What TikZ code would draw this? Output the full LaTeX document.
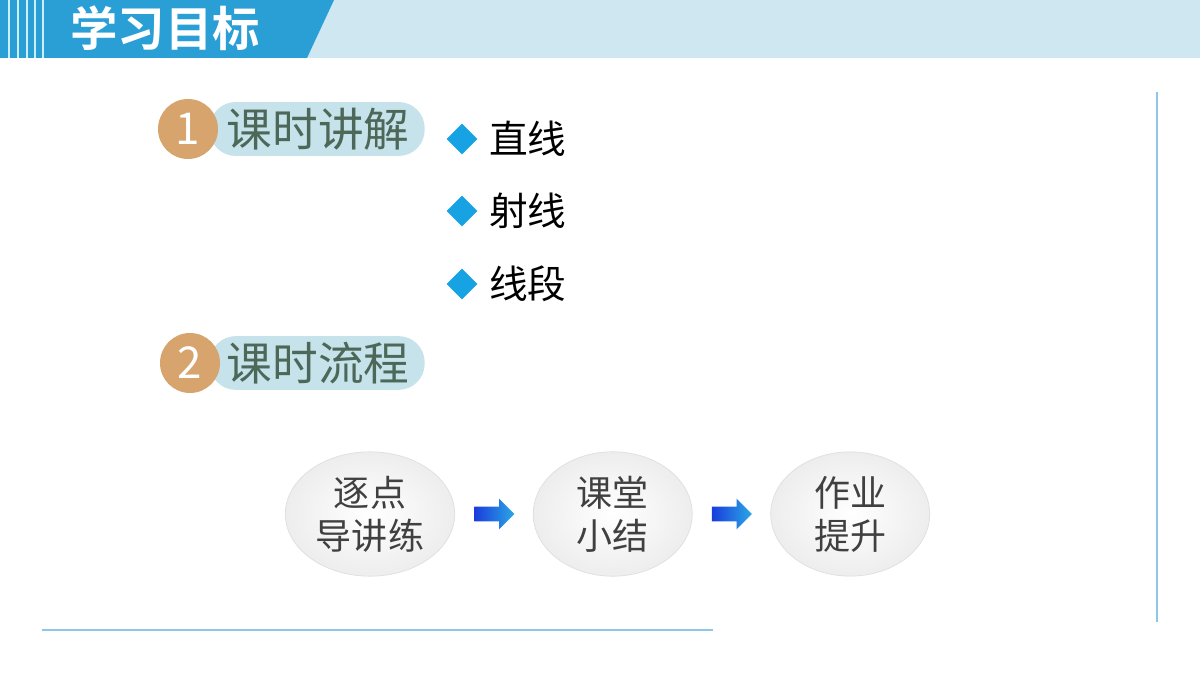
\documentclass[tikz,border=0pt]{standalone}
\usepackage{fontspec}
\newfontfamily\cjk{Noto Sans CJK SC}[BoldFont={Noto Sans CJK SC Bold}]
\usepackage{tikz}
\usetikzlibrary{positioning,shapes.geometric,shapes.arrows}
\definecolor{chead}{HTML}{2A9FD6}
\definecolor{clight}{HTML}{CFE7F1}
\definecolor{cpill}{HTML}{C6E2EA}
\definecolor{cnum}{HTML}{D6A46C}
\definecolor{ctext}{HTML}{4D6858}
\definecolor{cdia}{HTML}{17A2E4}
\definecolor{cline}{HTML}{8CC8E6}
\definecolor{carrl}{HTML}{1A3CDC}
\definecolor{carrr}{HTML}{2AA8E6}
\tikzset{
  pill/.style={fill=cpill, rounded corners=0.52cm, minimum height=1.04cm, text width=3.7cm, align=right,
    inner xsep=0.3cm, font=\cjk\fontsize{26}{28}\selectfont, text=ctext},
  numc/.style={circle, fill=cnum, minimum size=1.2cm, inner sep=0pt, text=white, font=\cjk\fontsize{25}{27}\selectfont},
  dia/.style={diamond, fill=cdia, minimum size=0.62cm, inner sep=0pt},
  item/.style={font=\cjk\fontsize{22}{24}\selectfont, text=black, inner sep=0pt},
  flow/.style={ellipse, draw=gray!25, shading=radial, inner color=white, outer color=gray!14,
    minimum width=3.18cm, minimum height=2.36cm, align=center, text=black!75,
    font=\cjk\fontsize{20.5}{24.5}\selectfont},
  blockarr/.style={single arrow, minimum height=0.8cm, inner xsep=0pt, inner ysep=0.14cm,
    single arrow head extend=0.16cm, left color=carrl, right color=carrr, draw=none},
}
\begin{document}
\begin{tikzpicture}[x=0.02cm, y=-0.02cm]
\useasboundingbox (0,0) rectangle (1200,675);
\fill[white] (0,0) rectangle (1200,675);
% header band
\fill[clight] (330,0) -- (1200,0) -- (1200,58) -- (305,58) -- cycle;
\fill[chead] (0,0) -- (334,0) -- (307,58) -- (0,58) -- cycle;
\foreach \x in {9,18,27,35,43} \fill[white!80!cyan] (\x-0.8,0) rectangle (\x+0.8,58);
\node[font=\cjk\bfseries\fontsize{27}{29}\selectfont, text=white] (title) at (165,28) {学习目标};
% frame lines
\draw[cline, line width=0.9pt] (1157,92) -- (1157,622);
\draw[cline, line width=0.9pt] (42,630) -- (713,630);
% part 1
\node[pill, anchor=east] (p1) at (425,129) {课时讲解};
\node[numc] (n1) at (188,129) {1};
\node[dia] (d1) at (462,139) {};
\node[dia] (d2) at (462,211) {};
\node[dia] (d3) at (462,284) {};
\node[item, right=0.22cm of d1] (t1) {直线};
\node[item, right=0.22cm of d2] (t2) {射线};
\node[item, right=0.22cm of d3] (t3) {线段};
% part 2
\node[pill, anchor=east] (p2) at (425,363) {课时流程};
\node[numc] (n2) at (190,363) {2};
% flow
\node[flow] (f1) at (370,514) {逐点\\导讲练};
\node[blockarr, right=0.38cm of f1] (a1) {};
\node[flow, right=0.36cm of a1] (f2) {课堂\\小结};
\node[blockarr, right=0.38cm of f2] (a2) {};
\node[flow, right=0.36cm of a2] (f3) {作业\\提升};
\end{tikzpicture}
\end{document}
